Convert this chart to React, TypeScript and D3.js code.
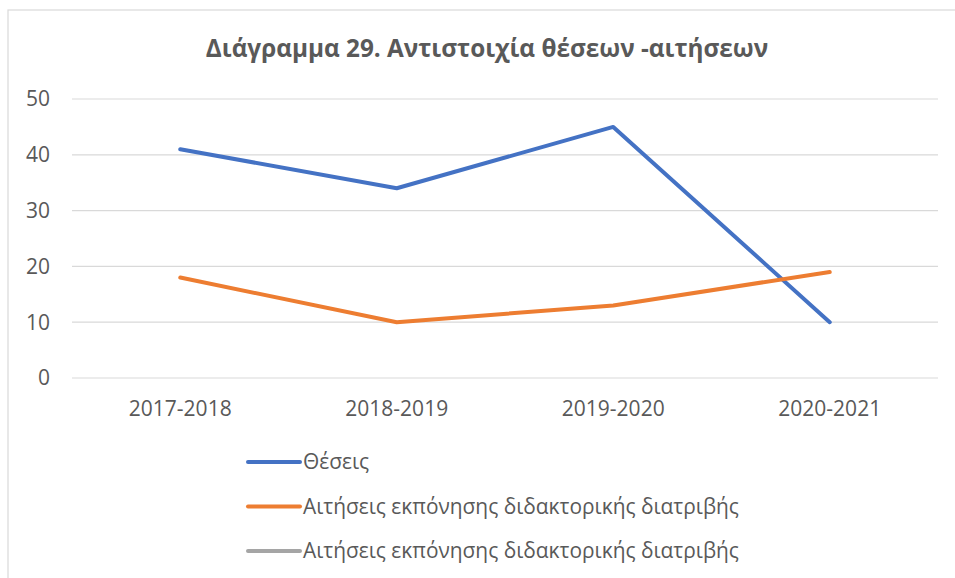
import React from 'react'
import * as d3 from 'd3'

const years = ['2017-2018', '2018-2019', '2019-2020', '2020-2021']
const theseis = [41, 34, 45, 10]
const aitiseis = [18, 10, 13, 19]
const yTicks = [0, 10, 20, 30, 40, 50]
const legendNames = [
  'Θέσεις',
  'Αιτήσεις εκπόνησης διδακτορικής διατριβής',
  'Αιτήσεις εκπόνησης διδακτορικής διατριβής',
]
const colors = ['#4472C4', '#ED7D31', '#A5A5A5']
const title = 'Διάγραμμα 29. Αντιστοιχία θέσεων -αιτήσεων'

const W = 955
const H = 578
const font = "'Open Sans', 'Noto Sans', sans-serif"
const textColor = '#595959'

export default function App() {
  const x = d3.scaleBand().domain(years).range([72, 938])
  const y = d3.scaleLinear().domain([0, 50]).range([378, 99])
  const cx = (d: string) => (x(d) as number) + x.bandwidth() / 2

  const line = d3
    .line<number>()
    .x((_, i) => cx(years[i]))
    .y((d) => y(d))

  const series = [theseis, aitiseis]

  return (
    <div style={{ position: 'fixed', left: 0, top: 0 }}>
      <svg width={W} height={H} style={{ display: 'block', fontFamily: font }}>
        <rect x={0} y={0} width={W} height={H} fill="#fff" />
        <rect x={8} y={10} width={W + 10} height={H + 10} fill="#fff" stroke="#d9d9d9" strokeWidth={1.2} />
        <text x={487} y={57} textAnchor="middle" fontSize={24.3} fontWeight="bold" fill={textColor}>
          {title}
        </text>
        {yTicks.map((t) => (
          <g key={t}>
            <line x1={72} x2={938} y1={y(t)} y2={y(t)} stroke="#d9d9d9" strokeWidth={1.2} />
            <text x={50} y={y(t)} dy="0.35em" textAnchor="end" fontSize={21} fill={textColor}>
              {t}
            </text>
          </g>
        ))}
        {years.map((yr) => (
          <text key={yr} x={cx(yr)} y={416} textAnchor="middle" fontSize={21} fill={textColor}>
            {yr}
          </text>
        ))}
        {series.map((s, i) => (
          <path key={i} d={line(s) || ''} fill="none" stroke={colors[i]} strokeWidth={4} strokeLinejoin="round" strokeLinecap="round" />
        ))}
        {legendNames.map((name, i) => {
          const ly = 462 + i * 44.5
          return (
            <g key={i}>
              <line x1={248} x2={300} y1={ly} y2={ly} stroke={colors[i]} strokeWidth={4} strokeLinecap="round" />
              <text x={303} y={ly} dy="0.35em" fontSize={20.9} fill={textColor}>
                {name}
              </text>
            </g>
          )
        })}
      </svg>
    </div>
  )
}
